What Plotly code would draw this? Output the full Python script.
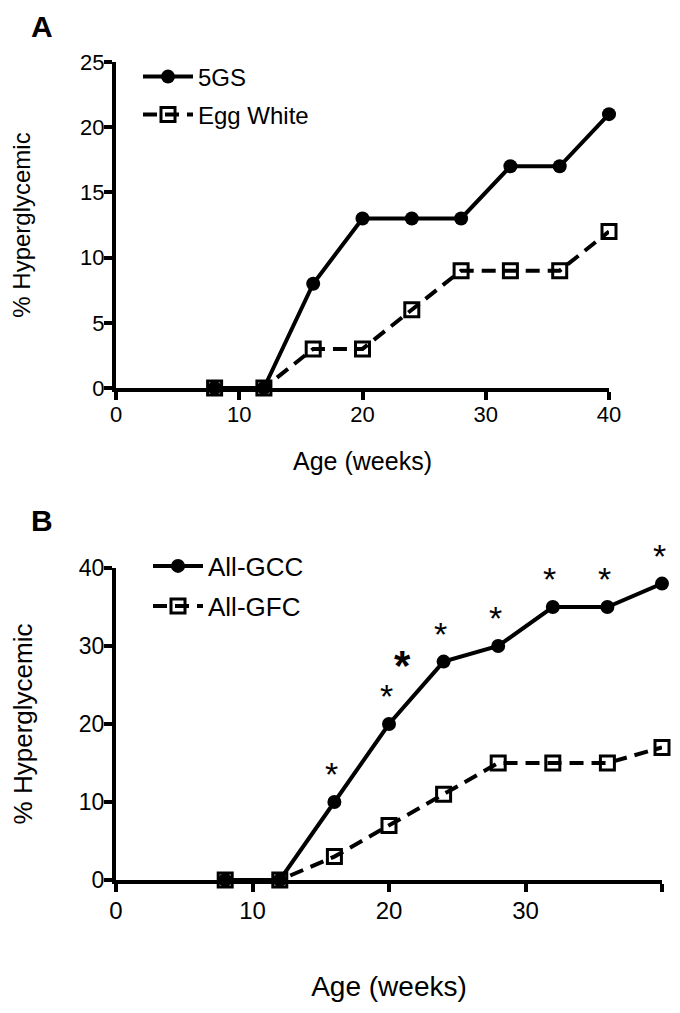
import plotly.graph_objects as go

# ---- data ----
weeks = [8, 12, 16, 20, 24, 28, 32, 36, 40]
a_5gs = [0, 0, 8, 13, 13, 13, 17, 17, 21]
a_egg = [0, 0, 3, 3, 6, 9, 9, 9, 12]
b_gcc = [0, 0, 10, 20, 28, 30, 35, 35, 38]
b_gfc = [0, 0, 3, 7, 11, 15, 15, 15, 17]
sig_weeks = [16, 20, 24, 28, 32, 36, 40]
extra_star = (21, 27.5)
a_yticks = [0, 5, 10, 15, 20, 25]
b_yticks = [0, 10, 20, 30, 40]
xticks = [0, 10, 20, 30, 40]

# page body has an 8px margin; figure is sized to fit inside the 680x1013 window
OFF = 8
W, H = 680 - 2 * OFF, 1013 - 2 * OFF
FONT = "Liberation Sans, Arial, sans-serif"

def px(x):
    return (x - OFF) / W

def py(y):
    return 1 - (y - OFF) / H

fig = go.Figure()

solid = dict(color="black", width=4)
dashed = dict(color="black", width=4, dash="14px,8px")
circ = dict(symbol="circle", size=14, color="black")
sq = dict(symbol="square-open", size=14, color="black", line=dict(width=3, color="black"))

fig.add_trace(go.Scatter(x=weeks, y=a_5gs, mode="lines+markers", name="5GS",
                         line=solid, marker=circ, xaxis="x", yaxis="y",
                         legend="legend5", cliponaxis=False))
fig.add_trace(go.Scatter(x=weeks, y=a_egg, mode="lines+markers", name="Egg White",
                         line=dashed, marker=sq, xaxis="x", yaxis="y",
                         legend="legend2", cliponaxis=False))
fig.add_trace(go.Scatter(x=weeks, y=b_gcc, mode="lines+markers", name="All-GCC",
                         line=solid, marker=circ, xaxis="x2", yaxis="y2",
                         legend="legend3", cliponaxis=False))
fig.add_trace(go.Scatter(x=weeks, y=b_gfc, mode="lines+markers", name="All-GFC",
                         line=dashed, marker=sq, xaxis="x2", yaxis="y2",
                         legend="legend4", cliponaxis=False))

ax_common = dict(showline=True, linewidth=4, linecolor="black", ticks="outside",
                 ticklen=8, tickwidth=4, tickcolor="black", showgrid=False,
                 zeroline=False, color="black", automargin=False)

fig.update_layout(
    width=W, height=H, margin=dict(l=0, r=0, t=0, b=0),
    paper_bgcolor="white", plot_bgcolor="white", showlegend=True,
    font=dict(family=FONT, color="black"),
    xaxis=dict(domain=[px(116), px(609)], range=[0, 40], tickvals=xticks,
               anchor="y", tickfont=dict(size=22), ticklabelstandoff=-4,
               title=dict(text="Age (weeks)", font=dict(size=25), standoff=27),
               **ax_common),
    yaxis=dict(domain=[py(388), py(62)], range=[0, 25], tickvals=a_yticks,
               anchor="x", tickfont=dict(size=22), ticklabelstandoff=-5,
               title=dict(text="% Hyperglycemic", font=dict(size=24), standoff=44),
               **ax_common),
    xaxis2=dict(domain=[px(116), px(662)], range=[0, 40], tickvals=xticks,
                anchor="y2", tickfont=dict(size=24), ticklabelstandoff=-2,
                title=dict(text="Age (weeks)", font=dict(size=28), standoff=55),
                **ax_common),
    yaxis2=dict(domain=[py(880), py(568)], range=[0, 40], tickvals=b_yticks,
                anchor="x2", tickfont=dict(size=23), ticklabelstandoff=-5,
                title=dict(text="% Hyperglycemic", font=dict(size=26), standoff=42),
                **ax_common),
)

leg_common = dict(xanchor="left", yanchor="middle", bgcolor="rgba(0,0,0,0)",
                  borderwidth=0, itemwidth=50, visible=True)
fig.update_layout(
    legend5=dict(x=px(138), y=py(77), font=dict(size=24), **leg_common),
    legend2=dict(x=px(138), y=py(115), font=dict(size=24), **leg_common),
    legend3=dict(x=px(148), y=py(566), font=dict(size=26), **leg_common),
    legend4=dict(x=px(148), y=py(606), font=dict(size=26), **leg_common),
)

annotations = [
    dict(text="<b>A</b>", x=px(29), y=1, xref="paper", yref="paper",
         xanchor="left", yanchor="top", showarrow=False, font=dict(size=30)),
    dict(text="<b>B</b>", x=px(29), y=py(520), xref="paper", yref="paper",
         xanchor="left", yanchor="middle", showarrow=False, font=dict(size=30)),
]
for w in sig_weeks:
    annotations.append(dict(text="*", x=w, y=b_gcc[weeks.index(w)], xref="x2", yref="y2",
                            showarrow=False, yshift=28, xshift=-3, font=dict(size=34)))
annotations.append(dict(text="<b>*</b>", x=extra_star[0], y=extra_star[1], xref="x2", yref="y2",
                        showarrow=False, font=dict(size=42)))
fig.update_layout(annotations=annotations)

fig.write_html("out.html")
